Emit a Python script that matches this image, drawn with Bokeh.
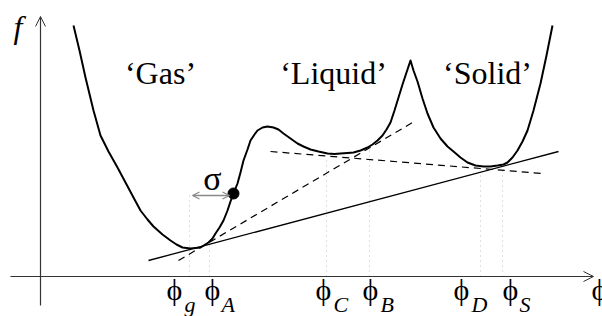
from bokeh.plotting import figure
from bokeh.models import Range1d, Arrow, OpenHead
from bokeh.core.properties import value
from bokeh.embed import file_html
from bokeh.resources import INLINE

# ---- data (schematic free-energy curve, phi vs f) ----
phi_curve = [73, 79, 85, 93, 100, 108, 117, 125, 133, 140, 147, 153, 162, 170, 176, 182,
             190, 200, 208, 212, 215, 219, 223, 227, 230, 233, 237, 240, 243, 247, 250,
             254, 257, 262, 267, 273, 278, 283, 290, 297, 303, 310, 318, 327, 334, 340,
             347, 353, 360, 367, 372, 377, 382, 386, 390, 394, 398, 402, 406, 410,
             413, 417, 422, 427, 433, 440, 447, 453, 460, 467, 475, 483, 490, 497, 503,
             507, 512, 517, 522, 527, 533, 540, 546, 552]
f_curve = [291, 266, 239, 206, 181, 165, 149, 134, 119, 106, 97, 90, 82, 76, 72, 69,
           68, 69, 74, 78, 83, 89, 96, 106, 115, 123, 133, 144, 156, 167, 176,
           182, 186, 189, 190, 189, 187, 183, 178, 173, 170, 167, 165, 163, 162.5, 163,
           163.5, 164, 166, 169, 172, 176, 181, 187, 194, 206, 219, 232, 244, 256,
           246, 235, 218, 203, 189, 178, 170, 165, 159, 154, 151, 150, 150, 151, 152,
           154, 159, 166, 175, 186, 206, 233, 261, 291]

# common tangent (solid) and double tangents (dashed)
tan_solid_phi = [148, 558]
tan_solid_f = [56, 165]
tan_dash1_phi = [178, 412]
tan_dash1_f = [56, 194]
tan_dash2_phi = [270, 542]
tan_dash2_f = [165, 143]

# coexistence points
mark_phi = [189, 209, 326, 369, 480, 502]
mark_top = [121, 73, 159, 166, 144, 146]
axis_f = 40
mark_bottom = [axis_f] * len(mark_phi)

mark_label_x = [166, 204, 315, 362, 453, 502]
mark_sub_x = [184, 221, 333, 380, 471, 519]
mark_subs = ["g", "A", "C", "B", "D", "S"]

phase_names = ["\u2018Gas\u2019", "\u2018Liquid\u2019", "\u2018Solid\u2019"]
phase_x = [160, 333, 487]
phase_f = [244, 244, 244]

dot_phi = [233]
dot_f = [123]

SERIF = "Liberation Serif"

p = figure(width=602, height=316, output_backend="svg", toolbar_location=None,
           x_range=Range1d(0, 602), y_range=Range1d(0, 316),
           x_axis_type=None, y_axis_type=None, min_border=0,
           outline_line_color=None, background_fill_color="white",
           border_fill_color="white")
p.grid.visible = False

# axes with arrows
p.add_layout(Arrow(end=OpenHead(size=10, line_width=1, line_color="#333333"),
                   x_start=10, y_start=axis_f, x_end=593, y_end=axis_f,
                   line_color="#333333", line_width=1.2))
p.add_layout(Arrow(end=OpenHead(size=10, line_width=1, line_color="#333333"),
                   x_start=40, y_start=11, x_end=40, y_end=300,
                   line_color="#333333", line_width=1.2))

# dotted verticals
p.segment(x0=mark_phi, y0=mark_bottom, x1=mark_phi, y1=mark_top,
          line_color="#c0c0c0", line_width=1, line_dash="1 4")

# tangents
p.line(tan_solid_phi, tan_solid_f, line_color="black", line_width=1.3)
p.line(tan_dash1_phi, tan_dash1_f, line_color="black", line_width=1.2, line_dash="7 5")
p.line(tan_dash2_phi, tan_dash2_f, line_color="black", line_width=1.2, line_dash="7 5")

# curve
p.line(phi_curve, f_curve, line_color="black", line_width=2, line_join="round")

# sigma arrow and dot
p.add_layout(Arrow(start=OpenHead(size=7, line_width=1.2, line_color="#888888"),
                   end=OpenHead(size=7, line_width=1.2, line_color="#888888"),
                   x_start=192, y_start=121, x_end=229, y_end=121,
                   line_color="#888888", line_width=1.3))
p.scatter(dot_phi, dot_f, size=11, color="black")

# texts
p.text(x=phase_x, y=phase_f, text=phase_names, text_font=value(SERIF),
       text_font_size="32px", text_align="center", text_baseline="alphabetic",
       text_color="black")
p.text(x=[13], y=[290], text=["f"], text_font=value(SERIF), text_font_style="italic",
       text_font_size="32px", text_baseline="alphabetic", text_color="black")
p.text(x=[212], y=[138], text=["\u03c3"], text_font=value(SERIF),
       text_font_size="34px", text_align="center", text_baseline="alphabetic",
       text_color="black")
p.text(x=mark_label_x + [591], y=[27] * (len(mark_label_x) + 1),
       text=["\u03d5"] * (len(mark_label_x) + 1), text_font=value(SERIF),
       text_font_size="30px", text_baseline="alphabetic", text_color="black")
p.text(x=mark_sub_x, y=[12] * len(mark_sub_x), text=mark_subs, text_font=value(SERIF),
       text_font_style="italic", text_font_size="22px", text_baseline="alphabetic",
       text_color="black")

open("out.html", "w").write(file_html(p, INLINE))
